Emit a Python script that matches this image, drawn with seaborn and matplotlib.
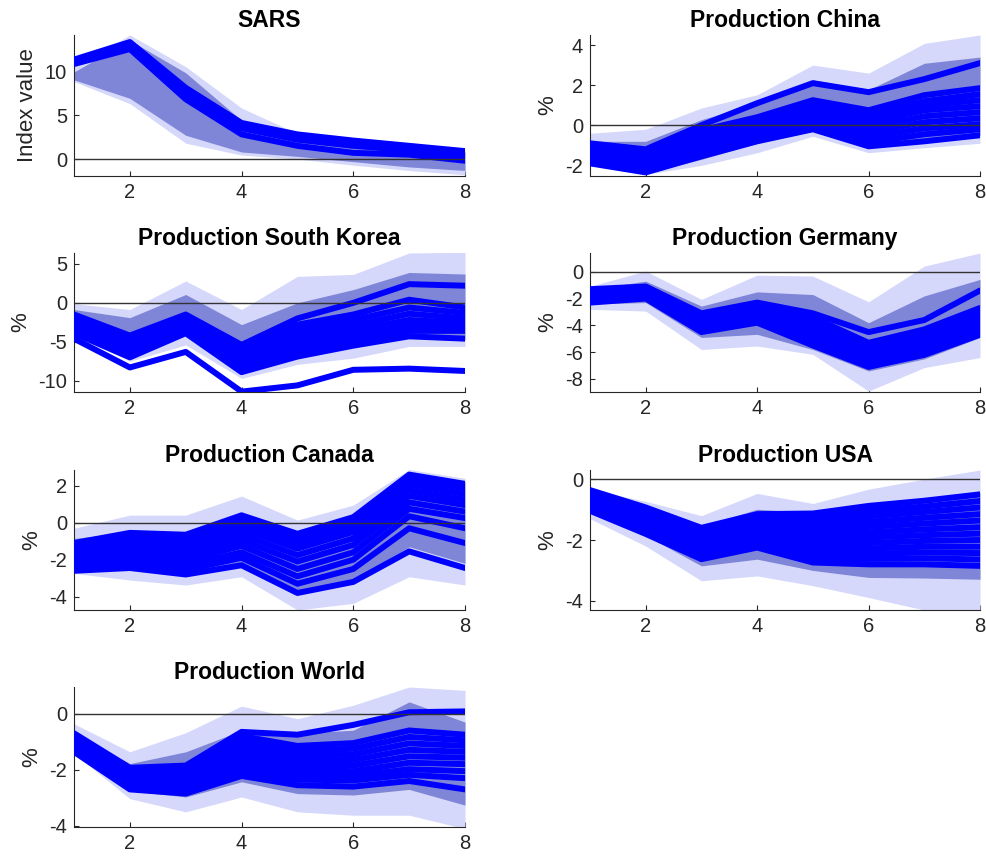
import numpy as np
import pandas as pd
import seaborn as sns
import matplotlib.pyplot as plt

horizon = [1, 2, 3, 4, 5, 6, 7, 8]

# SARS
sars_lines = [
    [11.3, 13.3, 8.1, 4.1, 2.8, 2.1, 1.5, 0.9],
    [11.0, 12.9, 7.4, 3.5, 2.2, 1.5, 1.0, 0.4],
    [10.8, 12.5, 6.8, 2.8, 1.5, 0.7, 0.5, -0.2],
]
sars_inner = [[9.0, 6.9, 2.7, 0.8, 0.3, -0.3, -0.9, -1.3],
              [9.9, 13.5, 9.8, 4.4, 2.5, 1.8, 1.4, 0.8]]
sars_outer = [[8.8, 6.3, 1.8, 0.45, 0.0, -0.7, -1.3, -1.8],
              [10.5, 14.1, 10.5, 5.8, 2.9, 2.2, 1.8, 1.1]]

# Production China
china_lines = [
    [-0.9, -1.2, 0.0, 1.1, 2.1, 1.65, 2.3, 3.1],
    [-0.95, -1.3, -0.25, 0.4, 1.25, 0.75, 1.5, 1.85],
    [-1.1, -1.45, -0.45, 0.3, 1.1, 0.55, 1.2, 1.55],
    [-1.2, -1.6, -0.6, 0.15, 0.95, 0.35, 1.0, 1.25],
    [-1.3, -1.75, -0.75, 0.0, 0.8, 0.15, 0.75, 0.95],
    [-1.45, -1.9, -0.95, -0.2, 0.6, -0.1, 0.45, 0.65],
    [-1.55, -2.0, -1.1, -0.35, 0.4, -0.35, 0.15, 0.35],
    [-1.65, -2.1, -1.25, -0.5, 0.2, -0.6, -0.15, 0.05],
    [-1.75, -2.25, -1.4, -0.65, 0.0, -0.85, -0.45, -0.2],
    [-1.9, -2.35, -1.55, -0.8, -0.2, -1.05, -0.8, -0.5],
]
china_inner = [[-1.9, -2.4, -1.7, -0.9, -0.3, -1.05, -0.8, -0.5],
               [-0.8, -0.8, 0.28, 1.1, 2.26, 1.77, 3.09, 3.4]]
china_outer = [[-2.0, -2.45, -2.0, -1.37, -0.55, -1.37, -1.12, -0.9],
               [-0.4, -0.2, 0.86, 1.52, 3.0, 2.6, 4.08, 4.5]]

# Production South Korea
korea_lines = [
    [-1.5, -4.2, -1.5, -5.4, -2.0, 0.0, 2.4, 2.2],
    [-1.8, -4.6, -1.8, -5.8, -2.8, -1.5, 0.4, -0.6],
    [-2.2, -5.1, -2.2, -6.3, -3.5, -2.2, -0.6, -1.3],
    [-2.5, -5.5, -2.6, -6.8, -4.2, -2.9, -1.4, -2.0],
    [-2.8, -5.9, -2.9, -7.3, -4.9, -3.5, -2.2, -2.6],
    [-3.1, -6.2, -3.2, -7.8, -5.6, -4.2, -2.9, -3.1],
    [-3.5, -6.6, -3.5, -8.3, -6.3, -4.9, -3.6, -3.6],
    [-3.9, -7.0, -3.9, -8.9, -6.9, -5.5, -4.3, -4.6],
    [-4.6, -8.3, -6.3, -11.4, -10.6, -8.6, -8.45, -8.75],
]
korea_inner = [[-3.9, -7.0, -3.9, -8.9, -6.9, -5.5, -4.5, -4.7],
               [-0.86, -1.9, 1.07, -2.8, 0.0, 1.7, 3.9, 3.7]]
korea_outer = [[-4.0, -7.5, -5.4, -9.7, -7.9, -7.1, -5.6, -5.6],
               [-0.1, -0.86, 2.8, -0.86, 3.4, 3.65, 6.4, 6.5]]

# Production Germany
germany_lines = [
    [-1.3, -1.1, -3.1, -2.3, -3.1, -4.5, -3.6, -1.4],
    [-1.45, -1.25, -3.3, -2.5, -3.4, -5.3, -4.3, -2.7],
    [-1.6, -1.4, -3.5, -2.7, -3.75, -5.6, -4.7, -3.1],
    [-1.75, -1.5, -3.7, -2.9, -4.05, -5.9, -5.0, -3.45],
    [-1.9, -1.65, -3.9, -3.1, -4.4, -6.2, -5.35, -3.8],
    [-2.05, -1.75, -4.1, -3.35, -4.75, -6.5, -5.65, -4.1],
    [-2.2, -1.9, -4.3, -3.6, -5.1, -6.8, -5.95, -4.4],
    [-2.3, -2.0, -4.5, -3.8, -5.5, -7.1, -6.2, -4.7],
]
germany_inner = [[-2.4, -2.3, -4.9, -4.67, -5.8, -7.4, -6.5, -4.9],
                 [-1.3, -0.7, -2.56, -1.5, -1.7, -3.8, -1.8, -0.57]]
germany_outer = [[-2.8, -2.93, -5.8, -5.54, -6.16, -8.9, -7.15, -6.4],
                 [-1.07, 0.05, -2.06, -0.25, -0.32, -2.24, 0.42, 1.4]]

# Production Canada
canada_lines = [
    [-1.1, -0.55, -0.65, 0.4, -0.6, 0.3, 2.6, 2.1],
    [-1.25, -0.75, -0.85, 0.15, -0.85, 0.05, 2.35, 1.85],
    [-1.4, -1.0, -1.05, -0.1, -1.1, -0.2, 2.05, 1.55],
    [-1.55, -1.25, -1.3, -0.35, -1.4, -0.5, 1.75, 1.25],
    [-1.7, -1.5, -1.55, -0.65, -1.75, -0.85, 1.45, 0.95],
    [-1.85, -1.75, -1.8, -0.95, -2.1, -1.2, 1.1, 0.6],
    [-2.0, -1.95, -2.05, -1.25, -2.5, -1.6, 0.75, 0.25],
    [-2.2, -2.15, -2.3, -1.6, -2.9, -2.0, 0.35, -0.3],
    [-2.4, -2.3, -2.55, -1.9, -3.3, -2.5, -0.3, -1.1],
    [-2.6, -2.45, -2.8, -2.3, -3.8, -3.2, -1.55, -2.45],
]
canada_inner = [[-2.5, -2.5, -2.7, -2.2, -3.8, -3.1, -1.3, -2.2],
                [-0.85, -0.5, -0.55, 0.45, -0.5, 0.35, 2.65, 2.2]]
canada_outer = [[-2.74, -3.1, -3.37, -2.92, -4.72, -4.36, -2.92, -3.37],
                [-0.3, 0.41, 0.41, 1.44, 0.14, 0.95, 2.88, 2.4]]

# Production USA
usa_lines = [
    [-0.36, -0.93, -1.60, -1.15, -1.13, -0.88, -0.71, -0.50],
    [-0.42, -1.01, -1.69, -1.25, -1.27, -1.05, -0.90, -0.72],
    [-0.48, -1.09, -1.78, -1.35, -1.42, -1.22, -1.08, -0.93],
    [-0.54, -1.17, -1.87, -1.45, -1.57, -1.40, -1.27, -1.15],
    [-0.60, -1.25, -1.96, -1.55, -1.70, -1.57, -1.46, -1.36],
    [-0.66, -1.33, -2.05, -1.65, -1.85, -1.75, -1.65, -1.58],
    [-0.72, -1.40, -2.14, -1.75, -2.00, -1.92, -1.84, -1.79],
    [-0.78, -1.48, -2.23, -1.85, -2.13, -2.10, -2.03, -2.00],
    [-0.85, -1.56, -2.32, -1.95, -2.28, -2.28, -2.22, -2.22],
    [-0.91, -1.64, -2.41, -2.05, -2.43, -2.45, -2.41, -2.43],
    [-0.97, -1.72, -2.52, -2.15, -2.58, -2.62, -2.60, -2.64],
    [-1.04, -1.80, -2.63, -2.25, -2.74, -2.80, -2.80, -2.85],
]
usa_inner = [[-1.1, -1.85, -2.85, -2.63, -3.0, -3.23, -3.25, -3.29],
             [-0.36, -0.9, -1.55, -0.99, -1.1, -0.85, -0.7, -0.45]]
usa_outer = [[-1.3, -2.2, -3.34, -3.18, -3.5, -3.89, -4.3, -4.6],
             [-0.33, -0.73, -1.2, -0.47, -0.8, -0.33, 0.0, 0.3]]

# Production World
world_lines = [
    [-0.70, -1.93, -1.85, -0.65, -0.75, -0.40, 0.05, 0.08],
    [-0.78, -1.98, -1.95, -0.80, -1.15, -1.05, -0.60, -0.75],
    [-0.86, -2.06, -2.07, -0.98, -1.33, -1.25, -0.83, -0.95],
    [-0.94, -2.14, -2.19, -1.16, -1.50, -1.45, -1.06, -1.15],
    [-1.02, -2.22, -2.31, -1.34, -1.67, -1.65, -1.29, -1.36],
    [-1.10, -2.30, -2.43, -1.52, -1.84, -1.85, -1.52, -1.57],
    [-1.18, -2.38, -2.55, -1.70, -2.01, -2.05, -1.75, -1.80],
    [-1.26, -2.48, -2.67, -1.88, -2.20, -2.22, -1.98, -2.05],
    [-1.31, -2.58, -2.77, -2.05, -2.35, -2.38, -2.18, -2.30],
    [-1.36, -2.70, -2.85, -2.22, -2.55, -2.60, -2.40, -2.70],
]
world_inner = [[-1.4, -2.75, -2.97, -2.43, -2.85, -2.9, -2.7, -3.26],
               [-0.7, -1.78, -1.36, -0.6, -0.7, -0.59, 0.42, -0.3]]
world_outer = [[-1.42, -3.03, -3.5, -2.97, -3.5, -3.62, -3.62, -4.1],
               [-0.36, -1.36, -0.68, 0.27, -0.18, 0.3, 0.95, 0.83]]

titles = ["SARS", "Production China", "Production South Korea", "Production Germany",
          "Production Canada", "Production USA", "Production World"]
ylabels = ["Index value", "%", "%", "%", "%", "%", "%"]
ylims = [(-1.93, 14.1), (-2.53, 4.5), (-11.45, 6.4), (-8.97, 1.4),
         (-4.72, 2.85), (-4.3, 0.3), (-4.04, 0.95)]
yticks = [[0, 5, 10], [-2, 0, 2, 4], [-10, -5, 0, 5], [-8, -6, -4, -2, 0],
          [-4, -2, 0, 2], [-4, -2, 0], [-4, -2, 0]]

panels = [
    (sars_lines, sars_inner, sars_outer),
    (china_lines, china_inner, china_outer),
    (korea_lines, korea_inner, korea_outer),
    (germany_lines, germany_inner, germany_outer),
    (canada_lines, canada_inner, canada_outer),
    (usa_lines, usa_inner, usa_outer),
    (world_lines, world_inner, world_outer),
]

sns.set_theme(style="ticks")
plt.rcParams["font.family"] = ["Liberation Sans", "DejaVu Sans"]
plt.rcParams["axes.unicode_minus"] = False

W, H = 986, 859
fig = plt.figure(figsize=(W / 100, H / 100), dpi=100)

col_px = [(74, 465), (590, 980)]
row_px = [(35, 176), (253, 392), (470, 610), (687, 827)]

light = "#d5d8fb"
mid = "#7f86d8"
dark = "#262626"

for i, (lines, inner, outer) in enumerate(panels):
    r, c = divmod(i, 2)
    x0, x1 = col_px[c]
    t, b = row_px[r]
    ax = fig.add_axes([x0 / W, 1 - b / H, (x1 - x0) / W, (b - t) / H])

    # bands: outer (light) and inner (darker)
    ax.fill_between(horizon, outer[0], outer[1], color=light, lw=0, zorder=1)
    ax.fill_between(horizon, inner[0], inner[1], color=mid, lw=0, zorder=2)

    df = pd.DataFrame(
        [(k, h, v) for k, ln in enumerate(lines) for h, v in zip(horizon, ln)],
        columns=["draw", "h", "value"],
    )
    sns.lineplot(data=df, x="h", y="value", units="draw", estimator=None,
                 color="#0000ff", lw=4.3, ax=ax, zorder=3)

    ax.axhline(0, color="#333333", lw=1.0, zorder=4)

    ax.set_xlim(1, 8)
    ax.set_ylim(*ylims[i])
    ax.set_xticks([2, 4, 6, 8])
    ax.set_yticks(yticks[i])
    ax.set_xlabel("")
    ax.set_ylabel(ylabels[i], fontsize=16, color=dark, labelpad=5)
    ax.set_title(titles[i], fontsize=16.5, fontweight="bold", color="black", pad=6)
    ax.tick_params(direction="in", length=3.5, width=0.8, labelsize=14.5,
                   colors=dark, pad=5)
    sns.despine(ax=ax)
    for s in ["left", "bottom"]:
        ax.spines[s].set_color(dark)
        ax.spines[s].set_linewidth(0.8)

fig.savefig("out.png", dpi=100)
